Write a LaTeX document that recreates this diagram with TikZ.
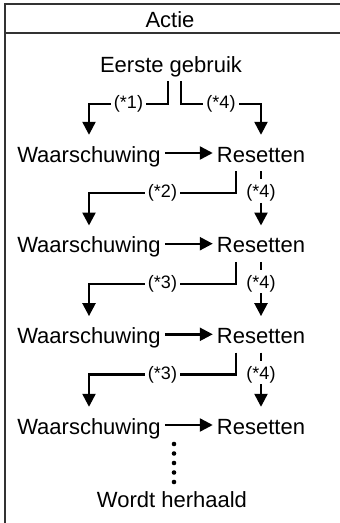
\documentclass[tikz,border=0pt]{standalone}
\usepackage{fontspec}
\setmainfont{Liberation Sans}
\usetikzlibrary{arrows.meta}

\begin{document}
\begin{tikzpicture}[x=1pt, y=-1pt, >={Triangle[width=13pt,length=13pt]},
  txt/.style={font=\fontsize{22}{26}\selectfont, text height=18pt, text depth=0pt,
    inner xsep=4pt, inner ysep=9pt, anchor=base},
  lbl/.style={font=\fontsize{18}{20}\selectfont, fill=white, inner xsep=3pt, inner ysep=1pt},
  flow/.style={line width=2.4pt}]
  \useasboundingbox (0,0) rectangle (340,523);

  % Frame and header
  \draw[line width=1.4pt, black!80] (5,523) -- (5,4) -- (340,4);
  \draw[line width=1.4pt, black!80] (5,33) -- (340,33);
  \node[txt, inner ysep=2pt] (title) at (170,27) {Actie};

  % First use
  \node[txt] (first) at (171,72) {Eerste gebruik};
  \coordinate (k1) at (168,104);
  \coordinate (k2) at (181,104);

  % Rows: warning -> reset
  \foreach \i/\y in {1/162, 2/252.7, 3/343.3, 4/434} {
    \node[txt] (warn\i) at (89,\y) {Waarschuwing};
    \node[txt] (reset\i) at (261,\y) {Resetten};
    \draw[flow, ->] (warn\i.east) -- (reset\i.west);
  }

  % Branches from first use
  \draw[flow, ->] ([xshift=-3pt]first.south) -- (k1) -- node[lbl] {(*1)} (k1 -| warn1.north) -- (warn1.north);
  \draw[flow, ->] ([xshift=10pt]first.south) -- (k2) -- node[lbl] {(*4)} (k2 -| reset1.north) -- (reset1.north);

  % Branches from each reset
  \foreach \i/\j/\c in {1/2/2, 2/3/3, 3/4/3} {
    \coordinate (s\i) at ([xshift=-25pt]reset\i.south);
    \coordinate (t\i) at ([yshift=-22pt]s\i);
    \draw[flow, ->] (s\i) -- (t\i) -- node[lbl] {(*\c)} (t\i -| warn\j.north) -- (warn\j.north);
    \node[lbl] (n\i) at (t\i -| reset\i.south) {(*4)};
    \draw[flow, dash pattern=on 8pt off 30pt] (reset\i.south) -- (n\i.north);
    \draw[flow, ->] (n\i.south) -- (reset\j.north);
  }

  % Repeat
  \foreach \k in {0,...,4}
    \fill (174,{444+9.5*\k}) circle (2.3pt);
  \node[txt] (again) at (172,507) {Wordt herhaald};
\end{tikzpicture}
\end{document}
